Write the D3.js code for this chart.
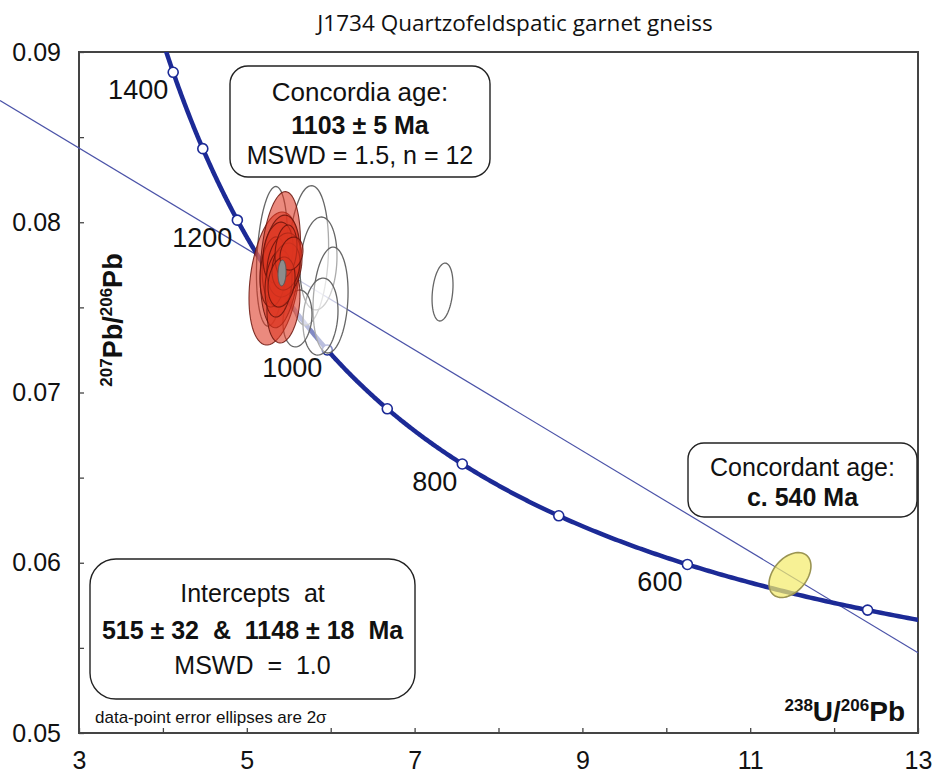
<!DOCTYPE html>
<html>
<head>
<meta charset="utf-8">
<script src="https://cdn.jsdelivr.net/npm/d3@7"></script>
<style>
  body { margin: 0; background: #fff; }
  svg text { font-family: "Liberation Sans", Arial, sans-serif; }
</style>
</head>
<body>
<div id="chart"></div>
<script>
// decay constants (per year) and present-day 238U/235U
const LAMBDA_238 = 1.55125e-10;
const LAMBDA_235 = 9.8485e-10;
const U_RATIO = 137.88;

const xTicks = [3, 4, 5, 6, 7, 8, 9, 10, 11, 12, 13];
const xLabels = [3, 5, 7, 9, 11, 13];
const yTicks = [0.05, 0.055, 0.06, 0.065, 0.07, 0.075, 0.08, 0.085, 0.09];
const yLabels = [0.05, 0.06, 0.07, 0.08, 0.09];

const markerAges = [500, 600, 700, 800, 900, 1000, 1100, 1200, 1300, 1400];
const labelledAges = [1400, 1200, 1000, 800, 600];
const interceptAges = [515, 1148];

// spots: [238U/206Pb, 207Pb/206Pb, 2s(x), 2s(y), rho]
const concordantSpots = [
  [5.330, 0.07670, 0.304, 0.00391, 0.30],
  [5.400, 0.07780, 0.240, 0.00400, 0.25],
  [5.437, 0.07526, 0.197, 0.00235, 0.20],
  [5.408, 0.07772, 0.226, 0.00270, 0.20],
  [5.318, 0.07708, 0.161, 0.00206, 0.20],
  [5.372, 0.07822, 0.179, 0.00179, 0.20],
  [5.449, 0.07749, 0.209, 0.00188, 0.20],
  [5.378, 0.07640, 0.161, 0.00197, 0.20],
  [5.467, 0.07740, 0.167, 0.00138, 0.20],
  [5.467, 0.07831, 0.131, 0.00153, 0.20],
  [5.414, 0.07649, 0.161, 0.00147, 0.20],
  [5.533, 0.07816, 0.137, 0.00097, 0.20]
];
const otherSpots = [
  [5.300, 0.07800, 0.185, 0.00410, 0.25],
  [5.735, 0.07805, 0.240, 0.00410, 0.15],
  [5.855, 0.07758, 0.220, 0.00273, 0.15],
  [5.998, 0.07543, 0.209, 0.00311, 0.15],
  [5.878, 0.07446, 0.209, 0.00226, 0.15],
  [5.604, 0.07435, 0.173, 0.00167, 0.15],
  [7.333, 0.07590, 0.125, 0.00170, 0.25]
];
const youngSpot = [[11.474, 0.05928, 0.250, 0.00132, 0.40]];
const concordiaAgeSpot = [[5.420, 0.07702, 0.048, 0.00076, 0.10]];

const width = 934, height = 773;
const margin = { top: 52, right: 16, bottom: 40, left: 79 };

const svg = d3.select("#chart").append("svg")
  .attr("width", width)
  .attr("height", height);

const x = d3.scaleLinear().domain([3, 13]).range([margin.left, width - margin.right]);
const y = d3.scaleLinear().domain([0.05, 0.09]).range([height - margin.bottom, margin.top]);

// Tera-Wasserburg coordinates for an age in Ma
function tw(ageMa) {
  const t = ageMa * 1e6;
  const e8 = Math.expm1(LAMBDA_238 * t);
  const e5 = Math.expm1(LAMBDA_235 * t);
  return [1 / e8, e5 / e8 / U_RATIO];
}

svg.append("clipPath").attr("id", "plot")
  .append("rect")
  .attr("x", x(3)).attr("y", y(0.09))
  .attr("width", x(13) - x(3)).attr("height", y(0.05) - y(0.09));

// Title
svg.append("text")
  .attr("x", 515).attr("y", 31)
  .attr("text-anchor", "middle")
  .style("font-family", "'Open Sans', 'Noto Sans', sans-serif")
  .style("font-size", "22.5px")
  .attr("fill", "#111")
  .text("J1734 Quartzofeldspatic garnet gneiss");

// Axes
const xAxis = svg.append("g")
  .attr("transform", `translate(0,${y(0.05)})`)
  .call(d3.axisBottom(x).tickValues(xTicks).tickSizeInner(-5).tickSizeOuter(0).tickPadding(18)
    .tickFormat(d => xLabels.includes(d) ? d : ""));
const yAxis = svg.append("g")
  .attr("transform", `translate(${x(3)},0)`)
  .call(d3.axisLeft(y).tickValues(yTicks).tickSizeInner(-5).tickSizeOuter(0).tickPadding(18)
    .tickFormat(d => yLabels.some(v => Math.abs(v - d) < 1e-9) ? d3.format(".2f")(d) : ""));
[xAxis, yAxis].forEach(a => {
  a.select(".domain").remove();
  a.selectAll(".tick line").attr("stroke", "#444").attr("stroke-width", 1.3);
  a.selectAll(".tick text").attr("fill", "#111")
    .style("font-family", "'Liberation Sans', Arial, sans-serif").style("font-size", "25px");
});

svg.append("rect")
  .attr("x", x(3)).attr("y", y(0.09))
  .attr("width", x(13) - x(3)).attr("height", y(0.05) - y(0.09))
  .attr("fill", "none").attr("stroke", "#444").attr("stroke-width", 2);

// Discordia through the two intercepts, running out past the left axis
const p1 = tw(interceptAges[0]);
const p2 = tw(interceptAges[1]);
const slope = (p2[1] - p1[1]) / (p2[0] - p1[0]);
const discordiaX = [x.invert(0), 13];
svg.append("path")
  .datum(discordiaX.map(v => [v, p1[1] + slope * (v - p1[0])]))
  .attr("d", d3.line().x(d => x(d[0])).y(d => y(d[1])))
  .attr("fill", "none")
  .attr("stroke", "#4b53a8")
  .attr("stroke-width", 1.2);

const plot = svg.append("g").attr("clip-path", "url(#plot)");

// Concordia curve
const curveAges = d3.range(460, 1460, 2);
plot.append("path")
  .datum(curveAges.map(tw))
  .attr("d", d3.line().x(d => x(d[0])).y(d => y(d[1])).curve(d3.curveBasis))
  .attr("fill", "none")
  .attr("stroke", "#1c2a96")
  .attr("stroke-width", 4.5);

plot.selectAll("circle.age")
  .data(markerAges)
  .join("circle")
  .attr("class", "age")
  .attr("cx", d => x(tw(d)[0]))
  .attr("cy", d => y(tw(d)[1]))
  .attr("r", 5)
  .attr("fill", "#fff")
  .attr("stroke", "#1c2a96")
  .attr("stroke-width", 1.6);

svg.selectAll("text.age")
  .data(labelledAges)
  .join("text")
  .attr("class", "age")
  .attr("x", d => x(tw(d)[0]) - 5)
  .attr("y", d => y(tw(d)[1]) + 27)
  .attr("text-anchor", "end")
  .style("font-size", "27px")
  .attr("fill", "#111")
  .text(d => d);

// Error ellipse outline from centre, 2s half-widths and correlation
function ellipse(s) {
  const [cx, cy, sx, sy, rho] = s;
  const k = Math.sqrt(1 - rho * rho);
  return d3.range(0, 72).map(i => {
    const a = i / 72 * 2 * Math.PI;
    return [x(cx + sx * Math.cos(a)), y(cy + sy * (rho * Math.cos(a) + k * Math.sin(a)))];
  });
}
const ellipsePath = d3.line().curve(d3.curveLinearClosed);

plot.selectAll("path.other")
  .data(otherSpots)
  .join("path")
  .attr("class", "other")
  .attr("d", d => ellipsePath(ellipse(d)))
  .attr("fill", "#fff").attr("fill-opacity", 0.45)
  .attr("stroke", "#666").attr("stroke-width", 1.3);

plot.selectAll("path.conc")
  .data(concordantSpots)
  .join("path")
  .attr("class", "conc")
  .attr("d", d => ellipsePath(ellipse(d)))
  .attr("fill", "#dd3521").attr("fill-opacity", 0.58)
  .attr("stroke", "#6a140c").attr("stroke-width", 1.1).attr("stroke-opacity", 0.85);

plot.selectAll("path.cage")
  .data(concordiaAgeSpot)
  .join("path")
  .attr("class", "cage")
  .attr("d", d => ellipsePath(ellipse(d)))
  .attr("fill", "#8c8c8c")
  .attr("stroke", "#555").attr("stroke-width", 1);

plot.selectAll("path.young")
  .data(youngSpot)
  .join("path")
  .attr("class", "young")
  .attr("d", d => ellipsePath(ellipse(d)))
  .attr("fill", "#f4ec6c").attr("fill-opacity", 0.72)
  .attr("stroke", "#9a9452").attr("stroke-width", 1.6);

// Annotation boxes
function box(x0, y0, w, h, r, lines) {
  const g = svg.append("g");
  g.append("rect")
    .attr("x", x0).attr("y", y0).attr("width", w).attr("height", h)
    .attr("rx", r).attr("ry", r)
    .attr("fill", "#fff").attr("stroke", "#222").attr("stroke-width", 1.4);
  lines.forEach(l => {
    g.append("text")
      .attr("x", x0 + w / 2).attr("y", y0 + l.dy)
      .attr("text-anchor", "middle")
      .style("font-size", l.size || "25px")
      .style("font-weight", l.bold ? "bold" : "normal")
      .attr("fill", "#111")
      .attr("xml:space", "preserve")
      .text(l.text);
  });
}

box(230, 66, 260, 111, 18, [
  { text: "Concordia age:", dy: 35, size: "26px" },
  { text: "1103 \u00b1 5 Ma", dy: 68, bold: true },
  { text: "MSWD = 1.5, n = 12", dy: 98 }
]);
box(688, 443, 229, 74, 16, [
  { text: "Concordant age:", dy: 33 },
  { text: "c. 540 Ma", dy: 63, bold: true }
]);
box(90, 559, 325, 140, 26, [
  { text: "Intercepts  at", dy: 43 },
  { text: "515 \u00b1 32  &  1148 \u00b1 18  Ma", dy: 80, bold: true },
  { text: "MSWD  =  1.0", dy: 115 }
]);

svg.append("text")
  .attr("x", 95).attr("y", 723)
  .style("font-size", "17px")
  .attr("fill", "#111")
  .text("data-point error ellipses are 2\u03c3");

// Axis titles with superscript mass numbers
const xTitle = svg.append("text")
  .attr("x", 905).attr("y", 721)
  .attr("text-anchor", "end")
  .style("font-weight", "bold").style("font-size", "28px").attr("fill", "#111");
xTitle.append("tspan").attr("dy", -10).style("font-size", "17px").text("238");
xTitle.append("tspan").attr("dy", 10).text("U/");
xTitle.append("tspan").attr("dy", -10).style("font-size", "17px").text("206");
xTitle.append("tspan").attr("dy", 10).text("Pb");

const yTitle = svg.append("text")
  .attr("transform", "translate(122,320) rotate(-90)")
  .attr("text-anchor", "middle")
  .style("font-weight", "bold").style("font-size", "27px").attr("fill", "#111");
yTitle.append("tspan").attr("dy", -10).style("font-size", "17px").text("207");
yTitle.append("tspan").attr("dy", 10).text("Pb/");
yTitle.append("tspan").attr("dy", -10).style("font-size", "17px").text("206");
yTitle.append("tspan").attr("dy", 10).text("Pb");
</script>
</body>
</html>
